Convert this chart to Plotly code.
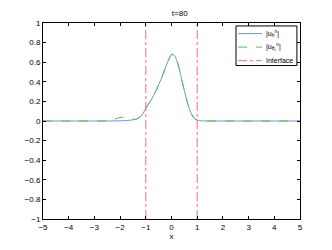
import plotly.graph_objects as go

x_vals = [-5, -4, -3, -2.5, -2.2, -2.0, -1.8, -1.6, -1.5, -1.4, -1.3, -1.2, -1.1, -1.0, -0.9, -0.8, -0.7, -0.6,
          -0.5, -0.4, -0.3, -0.2, -0.1, 0.0, 0.1, 0.2, 0.3, 0.4, 0.5, 0.6, 0.7, 0.8, 0.9, 1.0, 1.1, 1.2, 1.5, 2, 3, 4, 5]
u_h = [0, 0, 0, 0, 0.001, 0.002, 0.004, 0.008, 0.012, 0.018, 0.028, 0.045, 0.08, 0.13, 0.17, 0.21, 0.26, 0.31,
       0.37, 0.43, 0.50, 0.57, 0.63, 0.675, 0.67, 0.62, 0.53, 0.42, 0.31, 0.21, 0.12, 0.06, 0.025, 0.01, 0.004, 0.001, 0, 0, 0, 0, 0]
u_c = [0, 0, 0, 0.003, 0.02, 0.035, 0.04, 0.03, 0.018, 0.015, 0.03, 0.05, 0.085, 0.13, 0.17, 0.21, 0.26, 0.31,
       0.37, 0.43, 0.50, 0.57, 0.635, 0.68, 0.675, 0.625, 0.535, 0.42, 0.31, 0.21, 0.12, 0.06, 0.025, 0.01, 0.004, 0.001, 0, 0, 0, 0, 0]
interface_x = [-1, -1, None, 1, 1]
interface_y = [-1, 1, None, -1, 1]
series_names = ["|u<sub>h</sub><sup>n</sup>|", "|u<sub>θ<sub>c</sub></sub><sup>n</sup>|", "Interface"]
series_colors = ["#6f8ff5", "#4cc44c", "#f07070"]
series_dash = ["solid", "dash", "dashdot"]

FONT = "Liberation Sans"

fig = go.Figure()
fig.add_trace(go.Scatter(x=x_vals, y=u_h, mode="lines",
                         line=dict(color=series_colors[0], width=1, shape="spline", dash=series_dash[0]),
                         name=series_names[0]))
fig.add_trace(go.Scatter(x=x_vals, y=u_c, mode="lines",
                         line=dict(color=series_colors[1], width=1, dash=series_dash[1], shape="spline"),
                         name=series_names[1]))
fig.add_trace(go.Scatter(x=interface_x, y=interface_y, mode="lines",
                         line=dict(color=series_colors[2], width=1, dash=series_dash[2]),
                         name=series_names[2]))

# compact MATLAB-style legend drawn in paper coordinates
shapes = [dict(type="rect", xref="paper", yref="paper", x0=0.751, x1=0.988, y0=0.783, y1=0.985,
               line=dict(color="black", width=1), fillcolor="white", layer="above")]
annotations = []
row_y = [0.946, 0.877, 0.808]
for name, col, dash, yy in zip(series_names, series_colors, series_dash, row_y):
    shapes.append(dict(type="line", xref="paper", yref="paper", x0=0.759, x1=0.852, y0=yy, y1=yy,
                       line=dict(color=col, width=1, dash=dash), layer="above"))
    annotations.append(dict(xref="paper", yref="paper", x=0.858, y=yy, xanchor="left", yanchor="middle",
                            text=name, showarrow=False,
                            font=dict(size=7, color="black", family=FONT)))

axis_common = dict(showgrid=False, zeroline=False, showline=True, linecolor="black", linewidth=1,
                   mirror="ticks", ticks="inside", ticklen=3, tickcolor="black",
                   tickfont=dict(size=8, color="black", family=FONT))
fig.update_layout(
    width=324, height=242,
    margin=dict(l=35, r=32, t=11, b=28),
    paper_bgcolor="white", plot_bgcolor="white",
    title=dict(text="t=80", x=0.53, xanchor="center", y=0.99, yanchor="top",
               font=dict(size=8, color="black", family=FONT)),
    xaxis=dict(range=[-5, 5], tickvals=[-5, -4, -3, -2, -1, 0, 1, 2, 3, 4, 5],
               ticktext=["−5", "−4", "−3", "−2", "−1", "0", "1", "2", "3", "4", "5"],
               title=dict(text="x", font=dict(size=8, color="black", family=FONT), standoff=2),
               **axis_common),
    yaxis=dict(range=[-1, 1], tickvals=[-1, -0.8, -0.6, -0.4, -0.2, 0, 0.2, 0.4, 0.6, 0.8, 1],
               ticktext=["−1", "−0.8", "−0.6", "−0.4", "−0.2", "0", "0.2", "0.4", "0.6", "0.8", "1"],
               **axis_common),
    shapes=shapes,
    annotations=annotations,
    showlegend=False,
)
fig.write_html("out.html")
